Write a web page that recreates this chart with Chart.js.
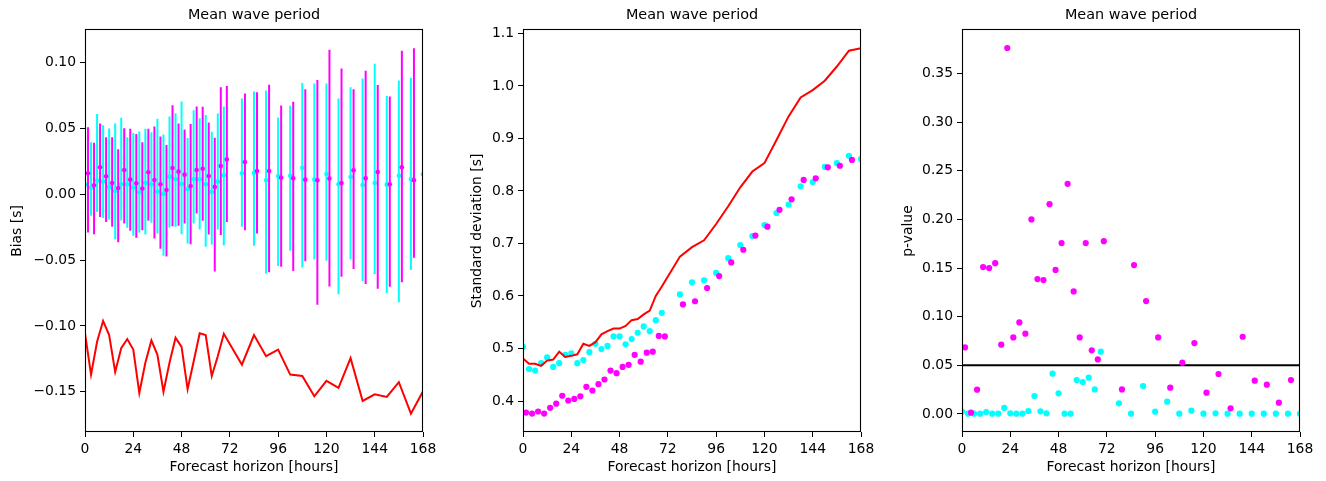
<!DOCTYPE html>
<html>
<head>
<meta charset="utf-8">
<script src="https://cdn.jsdelivr.net/npm/chart.js@4.4.0/dist/chart.umd.min.js"></script>
<style>
  html, body { margin: 0; padding: 0; background: #fff; }
  #wrap { position: relative; width: 1326px; height: 481px; overflow: hidden; background: #fff; }
  #wrap canvas { position: absolute; top: 0; }
</style>
</head>
<body>
<div id="wrap">
  <canvas id="bias" width="445" height="481" style="left:0px"></canvas>
  <canvas id="stdev" width="440" height="481" style="left:445px"></canvas>
  <canvas id="pval" width="441" height="481" style="left:885px"></canvas>
</div>
<script>
// Forecast lead times (hours): 3-hourly to 69 h, then 6-hourly to 168 h
const hours = [0, 3, 6, 9, 12, 15, 18, 21, 24, 27, 30, 33, 36, 39, 42, 45, 48, 51, 54, 57, 60, 63, 66, 69,
               78, 84, 90, 96, 102, 108, 114, 120, 126, 132, 138, 144, 150, 156, 162, 168];

// Axis tick values
const hourTicks = [0, 24, 48, 72, 96, 120, 144, 168];
const biasTicks = [-0.15, -0.10, -0.05, 0.00, 0.05, 0.10];
const sdTicks = [0.4, 0.5, 0.6, 0.7, 0.8, 0.9, 1.0, 1.1];
const pTicks = [0.00, 0.05, 0.10, 0.15, 0.20, 0.25, 0.30, 0.35];

// Bias [s]
const biasRed = [-0.1056, -0.137, -0.112, -0.0962, -0.107, -0.135, -0.117, -0.110, -0.118, -0.151, -0.128, -0.111,
                 -0.122, -0.150, -0.128, -0.109, -0.116, -0.148, -0.127, -0.1056, -0.107, -0.138, -0.123, -0.106,
                 -0.1295, -0.107, -0.123, -0.118, -0.137, -0.138, -0.1535, -0.1417, -0.147, -0.1245, -0.157, -0.152,
                 -0.154, -0.1427, -0.1667, -0.1497];
const biasCyan = [0.0073, 0.0051, 0.0104, 0.0098, 0.0056, 0.0025, 0.0076, 0.0076, 0.0051, 0.0015, 0.0088, 0.0076,
                  0.0020, 0.0003, 0.0134, 0.0116, 0.0078, 0.0040, 0.0116, 0.0114, 0.0076, 0.0018, 0.0096, 0.0144,
                  0.0159, 0.0162, 0.0106, 0.0139, 0.0141, 0.0202, 0.0111, 0.0154, 0.0076, 0.0131, 0.0071, 0.0086,
                  0.0073, 0.0141, 0.0116, 0.0152];
const biasCyanHigh = [0.050, 0.0396, 0.0609, 0.0525, 0.050, 0.0538, 0.0581, 0.0434, 0.0465, 0.0477, 0.0497, 0.0472,
                      0.0573, 0.0455, 0.0591, 0.0616, 0.0705, 0.0427, 0.0639, 0.0578, 0.0603, 0.0475, 0.0614, 0.0667,
                      0.0727, 0.078, 0.0788, 0.0583, 0.0672, 0.0846, 0.0841, 0.0841, 0.0727, 0.0813, 0.0879, 0.0992,
                      0.0747, 0.0864, 0.0884, 0.080];
const biasCyanLow = [-0.025, -0.0164, -0.0134, -0.018, -0.0192, -0.0341, -0.020, -0.0255, -0.0316, -0.029, -0.0306, -0.0217,
                     -0.0298, -0.0467, -0.0253, -0.0247, -0.0303, -0.0374, -0.0222, -0.0268, -0.0399, -0.0381, -0.0268, -0.0389,
                     -0.0247, -0.0391, -0.0601, -0.0545, -0.0429, -0.0556, -0.0495, -0.0505, -0.076, -0.0495, -0.0659, -0.0606,
                     -0.075, -0.082, -0.0576, -0.050];
const biasMagenta = [0.0159, 0.0068, 0.0205, 0.0136, 0.0086, 0.0048, 0.0184, 0.0111, 0.0083, 0.0043, 0.0167, 0.0109,
                     0.0076, 0.0033, 0.0199, 0.0172, 0.0149, 0.0063, 0.0184, 0.0194, 0.0139, 0.0056, 0.0215, 0.0265,
                     0.0245, 0.0177, 0.0177, 0.0126, 0.0121, 0.0111, 0.0106, 0.0119, 0.0086, 0.0182, 0.0121, 0.0169,
                     0.0076, 0.0205, 0.0106, null];
const biasMagentaHigh = [0.051, 0.0391, 0.0538, 0.0434, 0.0434, 0.0343, 0.0502, 0.0497, 0.0457, 0.0396, 0.0497, 0.0515,
                         0.0439, 0.0374, 0.0677, 0.0538, 0.0492, 0.0533, 0.0667, 0.0664, 0.0545, 0.0429, 0.0813, 0.0823,
                         0.0765, 0.0775, 0.0833, 0.0674, 0.0702, 0.0798, 0.0869, 0.1098, 0.0955, 0.0798, 0.0939, 0.0831,
                         0.0742, 0.1091, 0.1109, null];
const biasMagentaLow = [-0.029, -0.0303, -0.0172, -0.021, -0.0247, -0.0364, -0.0222, -0.0278, -0.0331, -0.0273, -0.0202, -0.0336,
                        -0.0414, -0.0472, -0.0242, -0.024, -0.0222, -0.0379, -0.0146, -0.0202, -0.0306, -0.0586, -0.031, -0.021,
                        -0.0273, -0.0298, -0.0593, -0.055, -0.0583, -0.0508, -0.084, -0.070, -0.0626, -0.0568, -0.0682, -0.0717,
                        -0.0702, -0.0669, -0.0482, null];

// Standard deviation [s]
const sdRed = [0.481, 0.471, 0.471, 0.467, 0.477, 0.479, 0.494, 0.484, 0.486, 0.489, 0.509, 0.505, 0.512, 0.527, 0.533,
               0.538, 0.538, 0.543, 0.554, 0.556, 0.565, 0.572, 0.600, 0.618, 0.675, 0.693, 0.706, 0.737, 0.771, 0.807,
               0.837, 0.853, 0.897, 0.942, 0.978, 0.992, 1.010, 1.037, 1.067, 1.072];
const sdCyan = [0.503, 0.461, 0.458, 0.472, 0.483, 0.465, 0.472, 0.488, 0.491, 0.472, 0.478, 0.493, 0.509, 0.499, 0.505,
                0.523, 0.523, 0.508, 0.518, 0.530, 0.542, 0.533, 0.554, 0.568, 0.603, 0.626, 0.630, 0.644, 0.672, 0.697,
                0.714, 0.735, 0.758, 0.774, 0.809, 0.817, 0.846, 0.853, 0.867, 0.861];
const sdMagenta = [0.378, 0.376, 0.380, 0.376, 0.387, 0.395, 0.410, 0.401, 0.404, 0.409, 0.427, 0.420, 0.432, 0.441, 0.458,
                   0.453, 0.465, 0.469, 0.488, 0.475, 0.492, 0.494, 0.524, 0.523, 0.584, 0.590, 0.615, 0.638, 0.664, 0.688,
                   0.715, 0.732, 0.764, 0.784, 0.821, 0.824, 0.845, 0.848, 0.859, null];

// p-value
const pCyan = [0.0024, 0.0003, 0.0003, 0.0003, 0.0020, 0.0003, 0.0003, 0.0062, 0.0007, 0.0003, 0.0003, 0.0031, 0.0185,
               0.0027, 0.0007, 0.0414, 0.0212, 0.0003, 0.0003, 0.0349, 0.0329, 0.0373, 0.0253, 0.0640, 0.0110, 0.0003,
               0.0287, 0.0024, 0.0127, 0.0003, 0.0034, 0.0003, 0.0007, 0.0003, 0.0003, 0.0003, 0.0003, 0.0003, 0.0003, 0.0003];
const pMagenta = [0.0684, 0.0014, 0.0250, 0.151, 0.150, 0.155, 0.0712, 0.3761, 0.0787, 0.0941, 0.0825, 0.1999, 0.1386,
                  0.1376, 0.2156, 0.148, 0.1756, 0.2365, 0.126, 0.0787, 0.1756, 0.0654, 0.0561, 0.1776, 0.0253, 0.153,
                  0.116, 0.0787, 0.0270, 0.0527, 0.0729, 0.0219, 0.0411, 0.0058, 0.0794, 0.0342, 0.0301, 0.0116, 0.0349, null];
const pThreshold = 0.05;

// ---- styling ----
const CYAN = '#00ffff', MAGENTA = '#ff00ff', RED = '#ff0000', BLACK = '#000000';
const MAGENTA_SHIFT = 1.5;   // magenta series drawn slightly to the right of the cyan one
const FS = 13.9;

Chart.defaults.font.family = "'DejaVu Sans', sans-serif";
Chart.defaults.font.size = FS;
Chart.defaults.color = BLACK;

// Axes box (all four spines) around the plotting area
const frame = {
  id: 'frame',
  afterDatasetsDraw(chart) {
    const { ctx, chartArea: a } = chart;
    ctx.save();
    ctx.strokeStyle = BLACK;
    ctx.lineWidth = 1.1;
    ctx.strokeRect(a.left + 0.5, a.top - 0.5, a.right - a.left - 1, a.bottom - a.top);
    ctx.restore();
  }
};

const pts = (xs, ys, dx) => xs.map((h, i) => ys[i] == null ? null : { x: h + dx, y: ys[i] }).filter(p => p);

function errorSegments(xs, lo, hi, dx) {
  const out = [];
  xs.forEach((h, i) => {
    if (lo[i] == null || hi[i] == null) return;
    out.push({ x: h + dx, y: lo[i] }, { x: h + dx, y: hi[i] }, { x: h + dx, y: null });
  });
  return out;
}

const fmt2 = v => (Math.round(v * 100) / 100).toFixed(2).replace('-', '\u2212');
const fmt1 = v => (Math.round(v * 10) / 10).toFixed(1).replace('-', '\u2212');

function makeOptions(cfg) {
  const gridOpts = { drawOnChartArea: false, drawTicks: true, tickLength: 5, color: BLACK, lineWidth: 1 };
  return {
    responsive: false,
    animation: false,
    devicePixelRatio: 1,
    events: [],
    layout: { padding: { left: 0, right: cfg.padRight, top: 0, bottom: 0 } },
    plugins: {
      legend: { display: false },
      tooltip: { enabled: false },
      title: {
        display: true, text: 'Mean wave period', fullSize: false, color: BLACK,
        font: { size: 14.4, weight: 'normal' }, padding: { top: 7, bottom: 5.72 }
      }
    },
    scales: {
      x: {
        type: 'linear', min: 0, max: 168,
        afterBuildTicks: s => { s.ticks = hourTicks.map(v => ({ value: v })); },
        afterFit: s => { s.height = 49; },
        ticks: { autoSkip: false, maxRotation: 0, padding: 4, color: BLACK, callback: v => String(v) },
        grid: gridOpts,
        border: { display: false },
        title: { display: true, text: 'Forecast horizon [hours]', color: BLACK, padding: { top: 0, bottom: 5.2 } }
      },
      y: {
        type: 'linear', min: cfg.yMin, max: cfg.yMax,
        afterBuildTicks: s => { s.ticks = cfg.yTicks.map(v => ({ value: v })); },
        afterFit: s => { s.width = cfg.yWidth; },
        ticks: { autoSkip: false, padding: 4, color: BLACK, callback: cfg.fmt },
        grid: gridOpts,
        border: { display: false },
        title: { display: true, text: cfg.yTitle, color: BLACK, padding: { top: cfg.yTitlePad, bottom: 0 } }
      }
    }
  };
}

const lineDS = (data, color, width, order) => ({
  type: 'line', data, borderColor: color, backgroundColor: color, borderWidth: width,
  pointRadius: 0, fill: false, tension: 0, spanGaps: false, order
});
const dotDS = (data, color, radius, order) => ({
  type: 'scatter', data, backgroundColor: color, borderColor: color, borderWidth: 0,
  pointRadius: radius, pointHoverRadius: radius, showLine: false, order
});

// Panel 1: bias with error bars
new Chart(document.getElementById('bias'), {
  type: 'scatter',
  data: {
    datasets: [
      dotDS(pts(hours, biasMagenta, MAGENTA_SHIFT), MAGENTA, 2.3, 1),
      lineDS(errorSegments(hours, biasMagentaLow, biasMagentaHigh, MAGENTA_SHIFT), MAGENTA, 2, 2),
      dotDS(pts(hours, biasCyan, 0), CYAN, 2.3, 3),
      lineDS(errorSegments(hours, biasCyanLow, biasCyanHigh, 0), CYAN, 2, 4),
      lineDS(pts(hours, biasRed, 0), RED, 2, 0)
    ]
  },
  options: makeOptions({ yMin: -0.1806, yMax: 0.1248, yTicks: biasTicks, fmt: fmt2,
                         yTitle: 'Bias [s]', yTitlePad: 9.2, yWidth: 85, padRight: 22 }),
  plugins: [frame]
});

// Panel 2: standard deviation
new Chart(document.getElementById('stdev'), {
  type: 'scatter',
  data: {
    datasets: [
      lineDS(pts(hours, sdRed, 0), RED, 2, 0),
      dotDS(pts(hours, sdMagenta, MAGENTA_SHIFT), MAGENTA, 3.1, 1),
      dotDS(pts(hours, sdCyan, 0), CYAN, 3.1, 2)
    ]
  },
  options: makeOptions({ yMin: 0.341, yMax: 1.1065, yTicks: sdTicks, fmt: fmt1,
                         yTitle: 'Standard deviation [s]', yTitlePad: 24.2, yWidth: 78, padRight: 24 }),
  plugins: [frame]
});

// Panel 3: p-value with significance threshold
new Chart(document.getElementById('pval'), {
  type: 'scatter',
  data: {
    datasets: [
      dotDS(pts(hours, pMagenta, MAGENTA_SHIFT), MAGENTA, 3.1, 0),
      dotDS(pts(hours, pCyan, 0), CYAN, 3.1, 1),
      lineDS([{ x: 0, y: pThreshold }, { x: 168, y: pThreshold }], BLACK, 2, 2)
    ]
  },
  options: makeOptions({ yMin: -0.0185, yMax: 0.3946, yTicks: pTicks, fmt: fmt2,
                         yTitle: 'p-value', yTitlePad: 15.2, yWidth: 77, padRight: 26 }),
  plugins: [frame]
});
</script>
</body>
</html>
